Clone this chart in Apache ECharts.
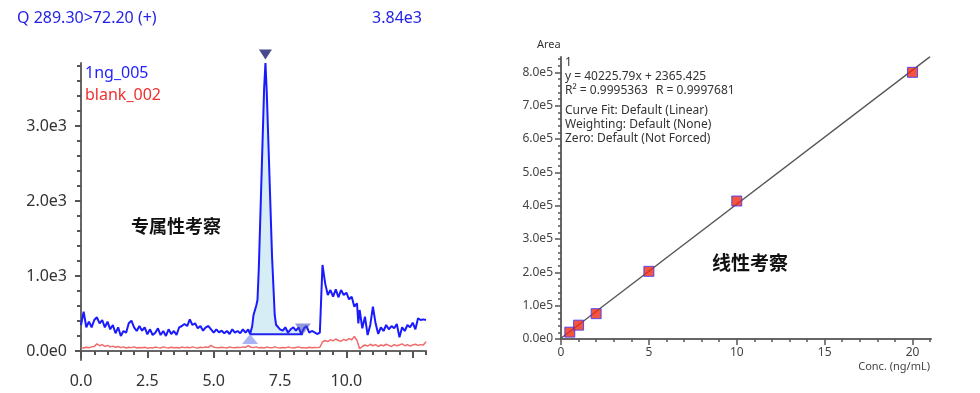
<!DOCTYPE html>
<html><head><meta charset="utf-8">
<script src="https://cdn.jsdelivr.net/npm/echarts@6/dist/echarts.min.js"></script>
<style>html,body{margin:0;padding:0;background:#fff}#c{width:980px;height:393px}</style>
</head><body><div id="c"></div>
<script>
// ---------- Left panel: chromatogram ----------
const blueTrace = [[0,347],[0.1,524],[0.2,316],[0.3,391],[0.4,316],[0.5,413],[0.6,449],[0.7,369],[0.8,413],[0.9,316],[1.0,391],[1.1,289],[1.2,347],[1.3,236],[1.4,316],[1.5,200],[1.6,267],[1.7,244],[1.8,369],[1.9,404],[2.0,316],[2.1,267],[2.2,333],[2.3,271],[2.4,316],[2.5,222],[2.6,289],[2.7,213],[2.8,244],[2.9,302],[3.0,213],[3.1,267],[3.2,200],[3.3,289],[3.4,227],[3.5,267],[3.6,213],[3.7,316],[3.8,333],[3.9,360],[4.0,333],[4.1,422],[4.2,347],[4.3,369],[4.4,302],[4.5,333],[4.6,271],[4.7,316],[4.8,333],[4.9,289],[5.0,244],[5.1,289],[5.2,249],[5.3,271],[5.4,236],[5.5,267],[5.6,227],[5.7,289],[5.8,244],[5.9,267],[6.0,236],[6.1,289],[6.2,244],[6.3,289],[6.37,225],[6.45,330],[6.5,480],[6.6,600],[6.65,680],[6.7,1100],[6.8,2300],[6.9,3500],[6.95,3840],[7.0,3450],[7.1,2350],[7.2,1250],[7.3,480],[7.35,350],[7.4,330],[7.5,289],[7.6,271],[7.7,316],[7.8,244],[7.9,289],[8.0,316],[8.1,271],[8.2,316],[8.3,225],[8.36,230],[8.4,302],[8.5,333],[8.6,244],[8.7,267],[8.8,249],[8.9,227],[9.0,244],[9.05,700],[9.1,1147],[9.2,902],[9.3,747],[9.4,813],[9.5,724],[9.6,822],[9.7,716],[9.8,813],[9.9,747],[10.0,778],[10.1,689],[10.2,724],[10.3,591],[10.4,636],[10.45,369],[10.5,547],[10.6,302],[10.7,458],[10.8,213],[10.9,347],[11.0,591],[11.1,369],[11.2,227],[11.3,316],[11.4,267],[11.5,347],[11.6,289],[11.7,333],[11.8,302],[11.9,360],[12.0,182],[12.1,316],[12.2,267],[12.3,347],[12.4,316],[12.5,378],[12.6,289],[12.7,436],[12.8,413],[12.9,422],[13.0,413]];
const redTrace = [[0,45],[0.1,40],[0.2,50],[0.3,42],[0.4,55],[0.5,60],[0.6,95],[0.7,70],[0.8,85],[0.9,60],[1.0,75],[1.1,55],[1.2,65],[1.3,50],[1.4,60],[1.5,45],[1.6,55],[1.7,40],[1.8,50],[1.9,45],[2.0,55],[2.1,40],[2.2,48],[2.3,42],[2.4,50],[2.5,38],[2.6,45],[2.7,40],[2.8,52],[2.9,45],[3.0,40],[3.1,55],[3.2,45],[3.3,40],[3.4,50],[3.5,42],[3.6,48],[3.7,40],[3.8,52],[3.9,45],[4.0,50],[4.1,42],[4.2,55],[4.3,45],[4.4,40],[4.5,50],[4.6,45],[4.7,52],[4.8,48],[4.9,75],[5.0,50],[5.1,45],[5.2,42],[5.3,50],[5.4,45],[5.5,40],[5.6,55],[5.7,45],[5.8,42],[5.9,50],[6.0,45],[6.1,55],[6.2,48],[6.3,72],[6.4,50],[6.5,45],[6.6,55],[6.7,42],[6.8,48],[6.9,40],[7.0,52],[7.1,45],[7.2,42],[7.3,55],[7.4,45],[7.5,40],[7.6,48],[7.7,42],[7.8,52],[7.9,45],[8.0,40],[8.1,48],[8.2,55],[8.3,42],[8.4,45],[8.5,40],[8.6,50],[8.7,42],[8.8,48],[8.9,45],[9.0,50],[9.1,120],[9.2,140],[9.3,125],[9.4,150],[9.5,135],[9.6,160],[9.7,140],[9.8,130],[9.9,155],[10.0,140],[10.1,165],[10.2,150],[10.3,195],[10.4,140],[10.5,30],[10.6,60],[10.7,80],[10.8,65],[10.9,90],[11.0,70],[11.1,85],[11.2,60],[11.3,80],[11.4,70],[11.5,90],[11.6,75],[11.7,60],[11.8,85],[11.9,70],[12.0,80],[12.1,95],[12.2,70],[12.3,85],[12.4,65],[12.5,80],[12.6,90],[12.7,75],[12.8,85],[12.9,80],[13.0,125]];
const peakStart = [6.37, 225];
const peakEnd = [8.36, 225];
const peakApex = [6.95, 3840];
const leftYMajor = [0, 1000, 2000, 3000];
const leftYMinor = [200,400,600,800,1200,1400,1600,1800,2200,2400,2600,2800,3200,3400,3600,3800];
const leftXMajor = [0, 2.5, 5, 7.5, 10, 12.5];
const leftXLabels = [0, 2.5, 5, 7.5, 10];
const leftXMinor = [0.5,1,1.5,2,3,3.5,4,4.5,5.5,6,6.5,7,8,8.5,9,9.5,10.5,11,11.5,12,13];
const traceNames = ['1ng_005', 'blank_002'];
const leftTitle = 'Q 289.30>72.20 (+)';
const leftMaxLabel = '3.84e3';

// ---------- Right panel: calibration curve ----------
const calConc = [0.5, 1, 2, 5, 10, 20];
const calArea = [20500, 41500, 76000, 203000, 414000, 800000];
const fitSlope = 40225.79;
const fitIntercept = 2365.425;
const rightYMajor = [0,100000,200000,300000,400000,500000,600000,700000,800000];
const rightYMinor = [20000,40000,60000,80000,120000,140000,160000,180000,220000,240000,260000,280000,320000,340000,360000,380000,420000,440000,460000,480000,520000,540000,560000,580000,620000,640000,660000,680000,720000,740000,760000,780000,820000,840000];
const rightXMajor = [0, 5, 10, 15, 20];
const rightXMinor = [1,2,3,4,6,7,8,9,11,12,13,14,16,17,18,19,21];
const fitText = ['1', 'y = 40225.79x + 2365.425', 'R\u00b2 = 0.9995363', 'R = 0.9997681', 'Curve Fit: Default (Linear)', 'Weighting: Default (None)', 'Zero: Default (Not Forced)'];

const chart = echarts.init(document.getElementById('c'), null, {renderer: 'canvas'});
const F = "'Noto Sans', 'Open Sans', sans-serif";
const axisGray = '#666';

const peakPoly = blueTrace.filter(p => p[0] >= peakStart[0] && p[0] <= peakEnd[0]).concat([[peakEnd[0], peakEnd[1]], [peakStart[0], peakStart[1]]]);
const fitLine = [[0, fitIntercept], [21.0, fitSlope * 21.0 + fitIntercept]];

function leftYFmt(v){ return v === 0 ? '0.0e0' : (v/1000).toFixed(1) + 'e3'; }
function rightYFmt(v){ return v === 0 ? '0.0e0' : (v/100000).toFixed(1) + 'e5'; }

const option = {
  animation: false,
  backgroundColor: '#fff',
  grid: [
    {left: 81, top: 63, width: 345, height: 297},
    {left: 561, top: 57, width: 370, height: 282}
  ],
  xAxis: [
    {gridIndex: 0, type: 'value', min: 0, max: 13, position: 'bottom',
     axisLine: {show: true, lineStyle: {color: axisGray, width: 2}},
     axisTick: {show: true, customValues: leftXMajor, length: 7, lineStyle: {color: '#555', width: 2}},
     axisLabel: {customValues: leftXLabels, formatter: v => v.toFixed(1), color: '#333', fontSize: 16, fontFamily: F, margin: 13},
     splitLine: {show: false}},
    {gridIndex: 0, type: 'value', min: 0, max: 13, position: 'bottom',
     axisLine: {show: false},
     axisTick: {show: true, customValues: leftXMinor, length: 4, lineStyle: {color: '#555', width: 2}},
     axisLabel: {show: false}, splitLine: {show: false}},
    {gridIndex: 1, type: 'value', min: 0, max: 21.05, position: 'bottom',
     axisLine: {show: true, lineStyle: {color: axisGray, width: 2}},
     axisTick: {show: true, customValues: rightXMajor, length: 6, lineStyle: {color: '#555', width: 1.5}},
     axisLabel: {customValues: rightXMajor, color: '#444', fontSize: 12, fontFamily: F, margin: 8},
     splitLine: {show: false}},
    {gridIndex: 1, type: 'value', min: 0, max: 21.05, position: 'bottom',
     axisLine: {show: false},
     axisTick: {show: true, customValues: rightXMinor, length: 3, lineStyle: {color: '#555', width: 1.5}},
     axisLabel: {show: false}, splitLine: {show: false}}
  ],
  yAxis: [
    {gridIndex: 0, type: 'value', min: -120, max: 3840, position: 'left',
     axisLine: {show: true, lineStyle: {color: axisGray, width: 2}},
     axisTick: {show: true, customValues: leftYMajor, length: 6, lineStyle: {color: '#555', width: 2}},
     axisLabel: {customValues: leftYMajor, formatter: leftYFmt, color: '#333', fontSize: 16, fontFamily: F, margin: 14},
     splitLine: {show: false}},
    {gridIndex: 0, type: 'value', min: -120, max: 3840, position: 'left',
     axisLine: {show: false},
     axisTick: {show: true, customValues: leftYMinor, length: 4, lineStyle: {color: '#555', width: 2}},
     axisLabel: {show: false}, splitLine: {show: false}},
    {gridIndex: 1, type: 'value', min: 0, max: 846000, position: 'left',
     axisLine: {show: true, lineStyle: {color: axisGray, width: 2}},
     axisTick: {show: true, customValues: rightYMajor, length: 6, lineStyle: {color: '#555', width: 1.5}},
     axisLabel: {customValues: rightYMajor, formatter: rightYFmt, color: '#444', fontSize: 12, fontFamily: F, margin: 8},
     splitLine: {show: false}},
    {gridIndex: 1, type: 'value', min: 0, max: 846000, position: 'left',
     axisLine: {show: false},
     axisTick: {show: true, customValues: rightYMinor, length: 3, lineStyle: {color: '#555', width: 1.5}},
     axisLabel: {show: false}, splitLine: {show: false}}
  ],
  series: [
    {type: 'custom', xAxisIndex: 0, yAxisIndex: 0, data: [0], z: 1, silent: true,
     renderItem: (params, api) => ({type: 'polygon', shape: {points: peakPoly.map(p => api.coord(p))}, style: {fill: '#d6edf5'}})},
    {type: 'line', name: traceNames[1], xAxisIndex: 0, yAxisIndex: 0, data: redTrace, showSymbol: false, z: 2,
     lineStyle: {color: '#f06a6a', width: 1.5}},
    {type: 'line', name: 'baseline', xAxisIndex: 0, yAxisIndex: 0, data: [peakStart, peakEnd], showSymbol: false, z: 3,
     lineStyle: {color: '#2222ee', width: 2}},
    {type: 'line', name: traceNames[0], xAxisIndex: 0, yAxisIndex: 0, data: blueTrace, showSymbol: false, z: 4,
     lineStyle: {color: '#1a1aff', width: 2}},
    {type: 'scatter', xAxisIndex: 0, yAxisIndex: 0, clip: false, z: 5, symbol: 'triangle', symbolSize: [16, 10],
     data: [[peakStart[0], 160]], itemStyle: {color: 'rgba(110,130,235,0.75)'}},
    {type: 'scatter', xAxisIndex: 0, yAxisIndex: 0, clip: false, z: 5, symbol: 'triangle', symbolSize: [16, 11], symbolRotate: 180,
     data: [[peakEnd[0], 295]], itemStyle: {color: 'rgba(60,70,190,0.7)'}},
    {type: 'scatter', xAxisIndex: 0, yAxisIndex: 0, clip: false, z: 6, symbol: 'triangle', symbolSize: [13, 10], symbolRotate: 180,
     data: [[peakApex[0], 3953]], itemStyle: {color: '#1a1a70'}},
    {type: 'line', xAxisIndex: 2, yAxisIndex: 2, data: fitLine, showSymbol: false, z: 2,
     lineStyle: {color: '#555', width: 1.3}},
    {type: 'scatter', xAxisIndex: 2, yAxisIndex: 2, z: 5, symbol: 'rect', symbolSize: 10,
     data: calConc.map((c, i) => [c, calArea[i]]),
     itemStyle: {color: '#f02a14', borderColor: '#3535ff', borderWidth: 1}}
  ],
  graphic: [
    {type: 'text', style: {text: leftTitle, x: 17, y: 18, verticalAlign: 'middle', fill: '#2323e6', font: "16px 'Noto Sans', sans-serif"}},
    {type: 'text', style: {text: leftMaxLabel, x: 422, y: 18, align: 'right', verticalAlign: 'middle', fill: '#2323e6', font: "16px 'Noto Sans', sans-serif"}},
    {type: 'text', style: {text: traceNames[0], x: 85, y: 73, verticalAlign: 'middle', fill: '#1f1fff', font: "16px 'Noto Sans', sans-serif"}},
    {type: 'text', style: {text: traceNames[1], x: 85, y: 95, verticalAlign: 'middle', fill: '#ee3030', font: "16px 'Noto Sans', sans-serif"}},
    {type: 'text', style: {text: '专属性考察', x: 131, y: 226, verticalAlign: 'middle', fill: '#111', font: "bold 18px 'Noto Sans CJK SC', sans-serif"}},
    {type: 'text', style: {text: 'Area', x: 537, y: 45, verticalAlign: 'middle', fill: '#333', font: "11px 'Noto Sans', sans-serif"}},
    {type: 'text', style: {text: fitText[0], x: 565, y: 63, verticalAlign: 'middle', fill: '#333', font: "12px 'Noto Sans', sans-serif"}},
    {type: 'text', style: {text: fitText[1], x: 565, y: 77, verticalAlign: 'middle', fill: '#333', font: "12px 'Noto Sans', sans-serif"}},
    {type: 'text', style: {text: fitText[2], x: 565, y: 91, verticalAlign: 'middle', fill: '#333', font: "12px 'Noto Sans', sans-serif"}},
    {type: 'text', style: {text: fitText[3], x: 656, y: 91, verticalAlign: 'middle', fill: '#333', font: "12px 'Noto Sans', sans-serif"}},
    {type: 'text', style: {text: fitText[4], x: 565, y: 111, verticalAlign: 'middle', fill: '#333', font: "12px 'Noto Sans', sans-serif"}},
    {type: 'text', style: {text: fitText[5], x: 565, y: 125, verticalAlign: 'middle', fill: '#333', font: "12px 'Noto Sans', sans-serif"}},
    {type: 'text', style: {text: fitText[6], x: 565, y: 139, verticalAlign: 'middle', fill: '#333', font: "12px 'Noto Sans', sans-serif"}},
    {type: 'text', style: {text: '线性考察', x: 712, y: 263, verticalAlign: 'middle', fill: '#111', font: "bold 19px 'Noto Sans CJK SC', sans-serif"}},
    {type: 'text', style: {text: 'Conc. (ng/mL)', x: 930, y: 367, align: 'right', verticalAlign: 'middle', fill: '#444', font: "11px 'Noto Sans', sans-serif"}}
  ]
};
chart.setOption(option);
</script></body></html>
